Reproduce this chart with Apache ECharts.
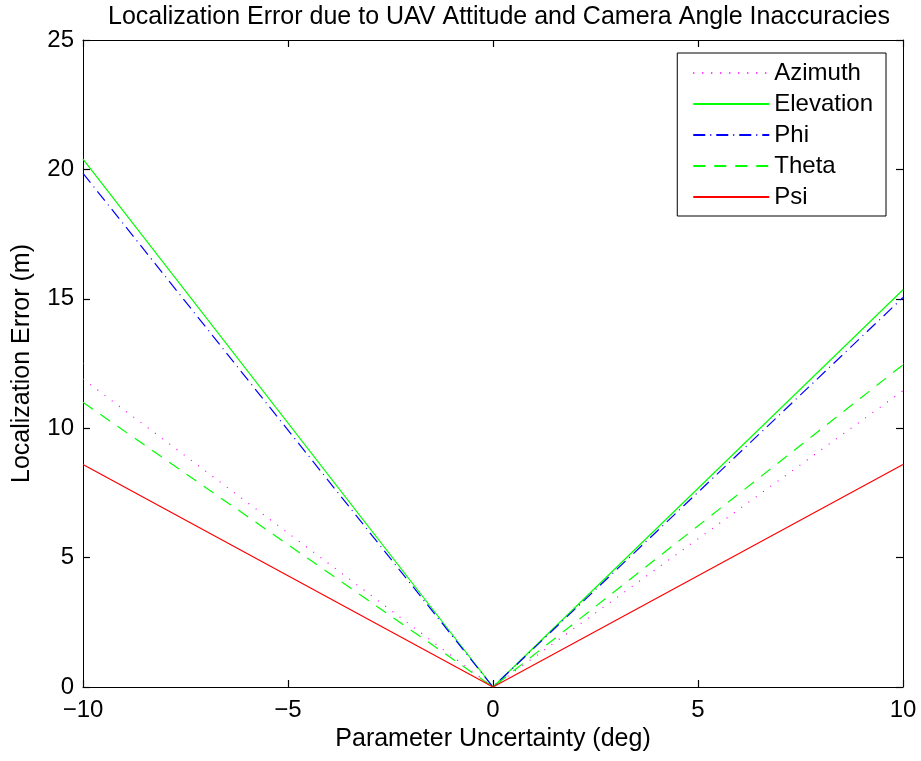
<!DOCTYPE html>
<html>
<head>
<meta charset="utf-8">
<script src="https://cdn.jsdelivr.net/npm/echarts@6/dist/echarts.min.js"></script>
<style>
  html, body { margin: 0; padding: 0; background: #fff; }
  #chart { width: 921px; height: 761px; }
</style>
</head>
<body>
<div id="chart"></div>
<script>
// x positions (deg)
var xs = [-10, 0, 10];
// localization error (m)
var azimuth = [11.9, 0, 11.45];
var elevation = [20.4, 0, 15.35];
var phi = [19.85, 0, 15.05];
var theta = [11.0, 0, 12.45];
var psi = [8.6, 0, 8.6];

var seriesNames = ["Azimuth", "Elevation", "Phi", "Theta", "Psi"];
var seriesData = [azimuth, elevation, phi, theta, psi];
var colors = ["#ff00ff", "#00ff00", "#0000ff", "#00ff00", "#ff0000"];
var dashes = [[1, 8], "solid", [12, 5, 1, 5], [12, 9], "solid"];

var font = "Helvetica, Arial, 'Liberation Sans', sans-serif";

function pairs(arr) {
  return xs.map(function (x, i) { return [x, arr[i]]; });
}

var series = seriesNames.map(function (name, i) {
  return {
    name: name,
    type: "line",
    data: pairs(seriesData[i]),
    symbol: "none",
    color: colors[i],
    lineStyle: { color: colors[i], width: 1.2, type: dashes[i] },
    animation: false
  };
});

function minus(v) {
  return String(v).replace("-", "\u2212");
}

function axisLine() {
  return { show: true, onZero: false, lineStyle: { color: "#000", width: 1 } };
}
function tick() {
  return { show: true, inside: true, length: 7, lineStyle: { color: "#000", width: 1.2 } };
}
// split lines kept on but invisible (ticks vanished when they were switched off)
function split() {
  return { show: true, lineStyle: { color: "rgba(0,0,0,0)" } };
}

var option = {
  animation: false,
  title: {
    text: "Localization Error due to UAV Attitude and Camera Angle Inaccuracies",
    left: 494,
    textAlign: "center",
    top: 0,
    textStyle: { fontFamily: font, fontSize: 25, fontWeight: "normal", color: "#000" }
  },
  grid: { left: 83, right: 18, top: 40, bottom: 74 },
  legend: {
    orient: "vertical",
    right: 35,
    top: 53,
    padding: [8, 13, 7, 15],
    itemWidth: 76,
    itemHeight: 12,
    itemGap: 7,
    borderColor: "#000",
    borderWidth: 1,
    backgroundColor: "#fff",
    itemStyle: { opacity: 0 },
    data: seriesNames,
    textStyle: { fontFamily: font, fontSize: 24, color: "#000" }
  },
  xAxis: [
    {
      type: "value",
      position: "bottom",
      min: -10,
      max: 10,
      interval: 5,
      name: "Parameter Uncertainty (deg)",
      nameLocation: "middle",
      nameGap: 40,
      nameTextStyle: { fontFamily: font, fontSize: 25, color: "#000" },
      axisLine: axisLine(),
      axisTick: tick(),
      splitLine: split(),
      axisLabel: { fontFamily: font, fontSize: 24, color: "#000", margin: 11, formatter: minus }
    },
    {
      type: "value",
      position: "top",
      min: -10,
      max: 10,
      interval: 5,
      axisLine: axisLine(),
      axisTick: tick(),
      splitLine: split(),
      axisLabel: { show: false }
    }
  ],
  yAxis: [
    {
      type: "value",
      position: "left",
      min: 0,
      max: 25,
      interval: 5,
      name: "Localization Error (m)",
      nameLocation: "middle",
      nameGap: 48,
      nameTextStyle: { fontFamily: font, fontSize: 25, color: "#000" },
      axisLine: axisLine(),
      axisTick: tick(),
      splitLine: split(),
      axisLabel: { fontFamily: font, fontSize: 24, color: "#000", margin: 9 }
    },
    {
      type: "value",
      position: "right",
      min: 0,
      max: 25,
      interval: 5,
      axisLine: axisLine(),
      axisTick: tick(),
      splitLine: split(),
      axisLabel: { show: false }
    }
  ],
  series: series
};

var myChart = echarts.init(document.getElementById("chart"), null, { renderer: "canvas" });
myChart.setOption(option);
</script>
</body>
</html>
